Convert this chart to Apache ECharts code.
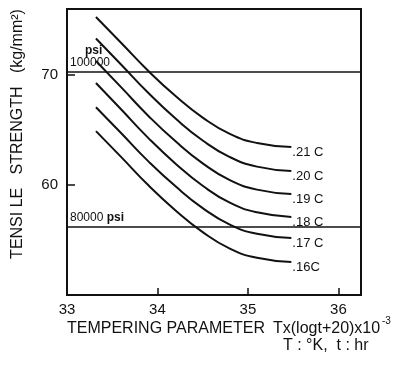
<!DOCTYPE html>
<html>
<head>
<meta charset="utf-8">
<script src="https://cdn.jsdelivr.net/npm/echarts@6/dist/echarts.min.js"></script>
<style>
  html, body { margin: 0; padding: 0; background: #fff; }
  #chart { width: 393px; height: 365px; }
</style>
</head>
<body>
<div id="chart"></div>
<script>
// Tempering parameter T(log t + 20) x 10^-3 sampled along each curve
const temperingParam = [33.32, 33.6, 33.9, 34.2, 34.5, 34.8, 35.1, 35.48];

// Tensile strength (kg/mm²) for each carbon content
const carbonLabels = ['.21 C', '.20 C', '.19 C', '.18 C', '.17 C', '.16C'];
const c21 = [75.27, 72.91, 70.36, 68.09, 66.13, 64.64, 63.82, 63.45];
const c20 = [73.32, 70.93, 68.36, 66.04, 64.05, 62.54, 61.67, 61.27];
const c19 = [71.27, 68.87, 66.28, 63.97, 61.97, 60.44, 59.58, 59.18];
const c18 = [69.27, 66.86, 64.26, 61.94, 59.93, 58.39, 57.52, 57.09];
const c17 = [67.07, 64.70, 62.15, 59.88, 57.90, 56.40, 55.56, 55.18];
const c16 = [64.90, 62.53, 59.97, 57.69, 55.72, 54.22, 53.38, 53.00];
const curves = [c21, c20, c19, c18, c17, c16];

// Reference strength levels in psi and their kg/mm² equivalents
const psiLevels = [100000, 80000];
const psiStrength = [70.31, 56.25];

// Axis ticks
const xTickLabels = [33, 34, 35, 36];
const xTickMarks = [34, 35, 36];
const yTickLabels = [60, 70];

const ink = '#111';
const font = 'Liberation Sans, Arial, Helvetica, sans-serif';

const chart = echarts.init(document.getElementById('chart'), null, { renderer: 'canvas' });

const curveSeries = curves.map((vals, i) => ({
  name: carbonLabels[i],
  type: 'line',
  data: temperingParam.map((x, k) => [x, vals[k]]),
  smooth: 0.5,
  showSymbol: false,
  silent: true,
  lineStyle: { color: ink, width: 2 },
  endLabel: {
    show: true,
    formatter: '{a}',
    color: ink,
    fontFamily: font,
    fontSize: 13,
    distance: 0,
    offset: [1, 5]
  }
}));

const psiSeries = psiLevels.map((psi, i) => ({
  name: psi + ' psi',
  type: 'line',
  data: [],
  silent: true,
  markLine: {
    symbol: 'none',
    silent: true,
    animation: false,
    lineStyle: { color: ink, width: 1.5, type: 'solid' },
    label: {
      position: 'insideStartTop',
      distance: [3, 3],
      color: ink,
      fontFamily: font,
      fontSize: 12,
      formatter: i === 0 ? '{p|psi}\n{n|' + psi + '}' : '{n|' + psi + '} {p|psi}',
      rich: {
        p: { fontSize: 12, fontWeight: 'bold', fontFamily: font, color: ink, padding: i === 0 ? [0, 0, 0, 15] : 0 },
        n: { fontSize: 12, fontFamily: font, color: ink }
      }
    },
    data: [{ yAxis: psiStrength[i] }]
  }
}));

chart.setOption({
  animation: false,
  backgroundColor: '#fff',
  grid: {
    left: 67, right: 32, top: 9, bottom: 70,
    show: true, borderColor: ink, borderWidth: 2, backgroundColor: 'transparent'
  },
  xAxis: {
    type: 'value',
    min: 33, max: 36.25, interval: 1,
    axisLine: { show: false },
    splitLine: { show: false },
    axisTick: { show: true, inside: true, length: 7, lineStyle: { color: ink, width: 1.5 }, customValues: xTickMarks },
    axisLabel: { color: ink, fontFamily: font, fontSize: 15, margin: 7, customValues: xTickLabels }
  },
  yAxis: {
    type: 'value',
    min: 50, max: 76, interval: 10,
    axisLine: { show: false },
    splitLine: { show: false },
    axisTick: { show: true, inside: true, length: 8, lineStyle: { color: ink, width: 1.5 }, customValues: yTickLabels },
    axisLabel: { color: ink, fontFamily: font, fontSize: 15, margin: 9, customValues: yTickLabels }
  },
  graphic: [
    {
      type: 'text', x: 18, y: 134, rotation: Math.PI / 2,
      style: {
        text: 'TENSI LE   STRENGTH   (kg/mm²)',
        fill: ink, font: '16px ' + font, textAlign: 'center', textVerticalAlign: 'middle'
      }
    },
    {
      type: 'text', x: 67, y: 329,
      style: { text: 'TEMPERING PARAMETER', fill: ink, font: '16px ' + font, textVerticalAlign: 'middle' }
    },
    {
      type: 'text', x: 273, y: 329,
      style: { text: 'Tx(logt+20)x10', fill: ink, font: '16px ' + font, textVerticalAlign: 'middle' }
    },
    {
      type: 'text', x: 382, y: 321,
      style: { text: '-3', fill: ink, font: '10px ' + font, textVerticalAlign: 'middle' }
    },
    {
      type: 'text', x: 283, y: 346,
      style: { text: 'T : °K,  t : hr', fill: ink, font: '16px ' + font, textVerticalAlign: 'middle' }
    }
  ],
  series: curveSeries.concat(psiSeries)
});
</script>
</body>
</html>
